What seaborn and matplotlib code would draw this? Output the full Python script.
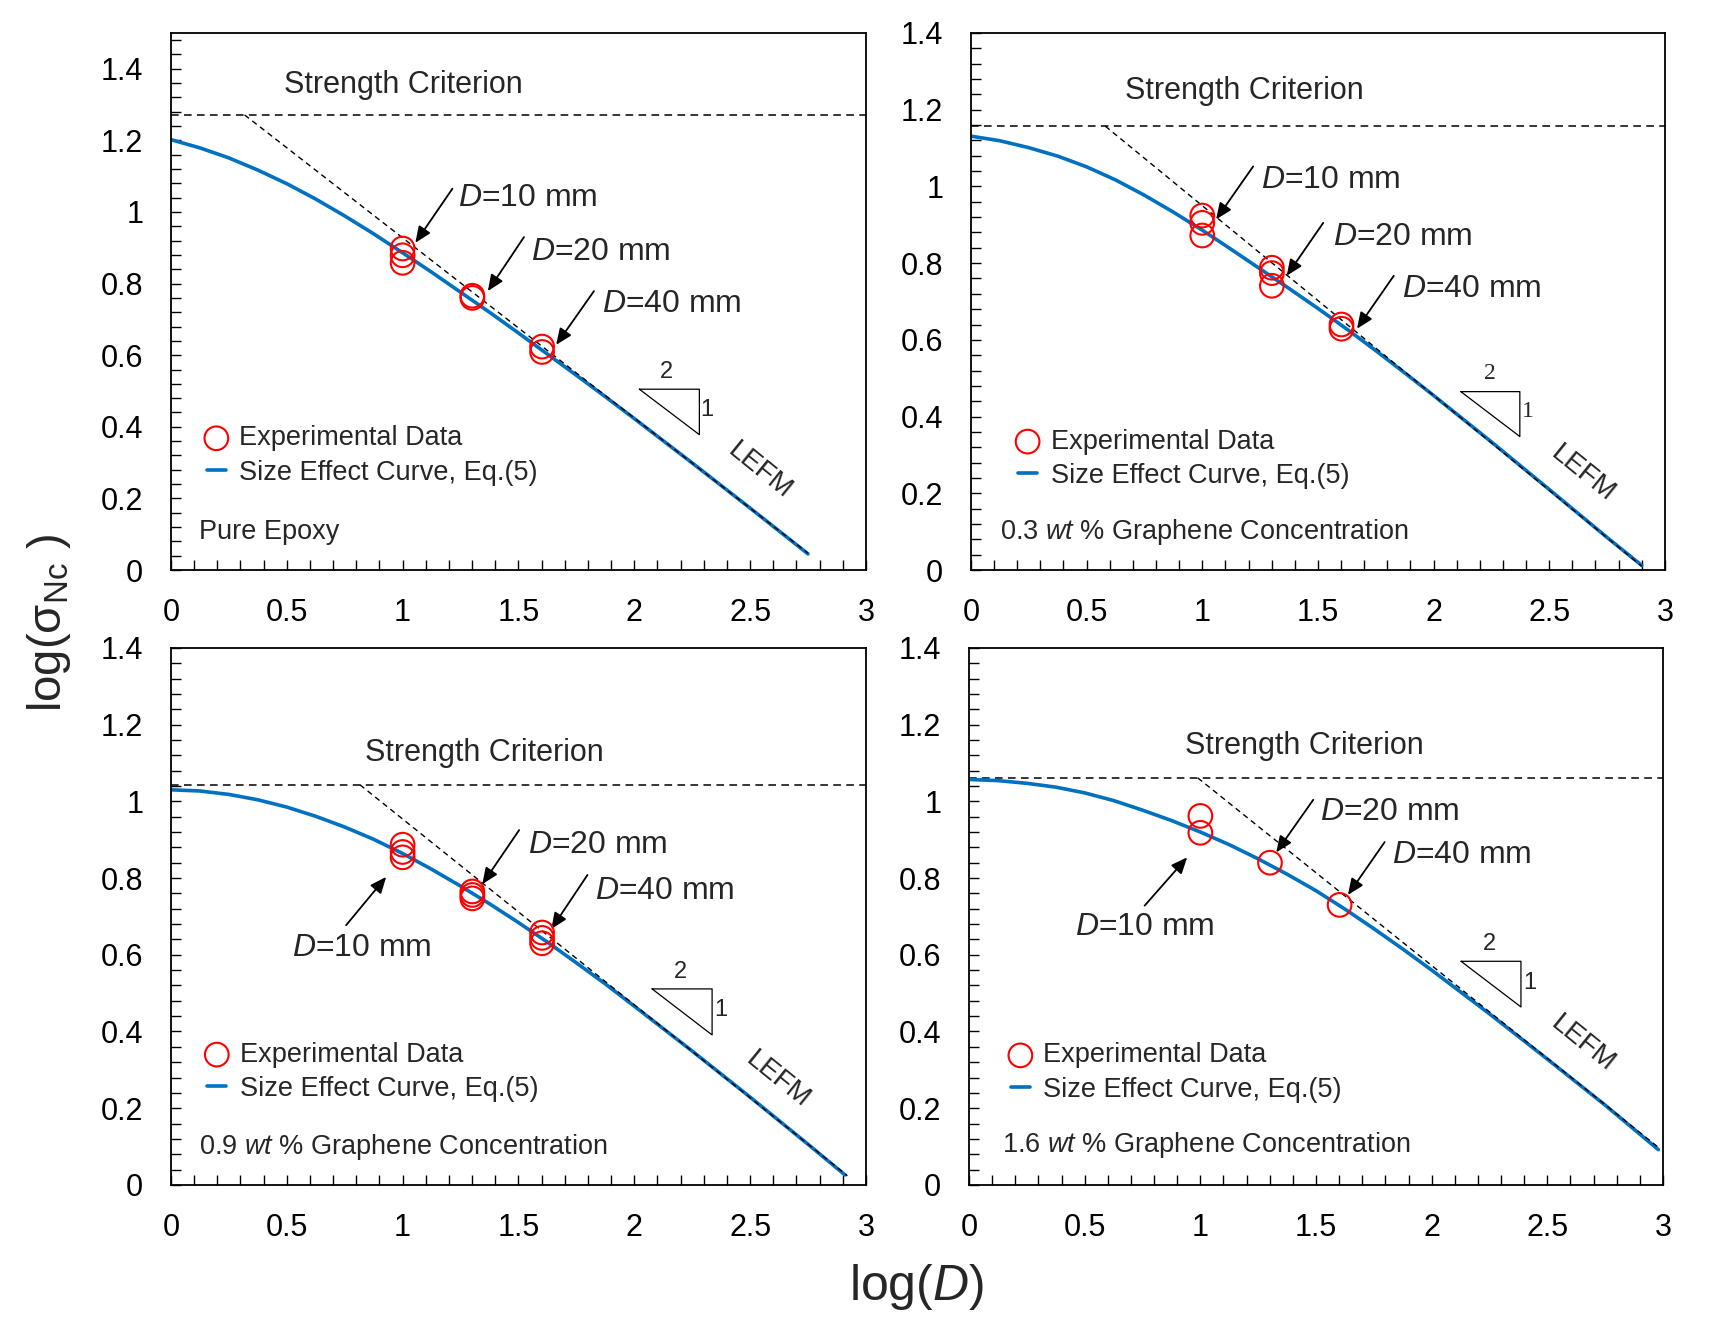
import seaborn as sns
import pandas as pd
import matplotlib.pyplot as plt
from matplotlib.ticker import MultipleLocator, FuncFormatter

# values (log10 units)
size_labels = ["$\\it{D}$=10 mm", "$\\it{D}$=20 mm", "$\\it{D}$=40 mm"]
panel_titles = ["Pure Epoxy",
                "0.3 $\\it{wt}$ % Graphene Concentration",
                "0.9 $\\it{wt}$ % Graphene Concentration",
                "1.6 $\\it{wt}$ % Graphene Concentration"]

curve_x_00 = [0, 0.125, 0.25, 0.375, 0.5, 0.625, 0.75, 0.875, 1.0, 1.125, 1.25, 1.375, 1.5,
              1.625, 1.75, 1.875, 2.0, 2.25, 2.5, 2.75]
curve_y_00 = [1.202, 1.179, 1.151, 1.117, 1.079, 1.036, 0.989, 0.939, 0.886, 0.832, 0.776, 0.720,
              0.662, 0.603, 0.544, 0.484, 0.423, 0.299, 0.173, 0.045]
curve_x_03 = [0, 0.125, 0.25, 0.375, 0.5, 0.625, 0.75, 0.875, 1.0, 1.125, 1.25, 1.375, 1.5,
              1.625, 1.75, 1.875, 2.0, 2.25, 2.5, 2.75, 2.90]
curve_y_03 = [1.131, 1.119, 1.101, 1.079, 1.051, 1.017, 0.977, 0.933, 0.886, 0.836, 0.785, 0.734,
              0.682, 0.628, 0.572, 0.514, 0.455, 0.334, 0.210, 0.085, 0.012]
curve_x_09 = [0, 0.125, 0.25, 0.375, 0.5, 0.625, 0.75, 0.875, 1.0, 1.125, 1.25, 1.375, 1.5,
              1.625, 1.75, 1.875, 2.0, 2.25, 2.5, 2.75, 2.91]
curve_y_09 = [1.030, 1.027, 1.018, 1.004, 0.985, 0.961, 0.933, 0.901, 0.864, 0.823, 0.779, 0.733,
              0.684, 0.633, 0.579, 0.524, 0.466, 0.349, 0.229, 0.106, 0.026]
curve_x_16 = [0, 0.125, 0.25, 0.375, 0.5, 0.625, 0.75, 0.875, 1.0, 1.125, 1.25, 1.375, 1.5,
              1.625, 1.75, 1.875, 2.0, 2.25, 2.5, 2.75, 2.98]
curve_y_16 = [1.057, 1.054, 1.047, 1.037, 1.022, 1.002, 0.977, 0.950, 0.920, 0.887, 0.850, 0.810,
              0.767, 0.719, 0.668, 0.615, 0.560, 0.446, 0.328, 0.208, 0.092]

exp_x_00 = [1, 1, 1, 1.301, 1.301, 1.602, 1.602]
exp_y_00 = [0.898, 0.879, 0.858, 0.766, 0.760, 0.624, 0.609]
exp_x_03 = [1, 1, 1, 1.301, 1.301, 1.301, 1.602, 1.602]
exp_y_03 = [0.924, 0.905, 0.872, 0.788, 0.774, 0.741, 0.640, 0.629]
exp_x_09 = [1, 1, 1, 1.301, 1.301, 1.301, 1.602, 1.602, 1.602]
exp_y_09 = [0.887, 0.868, 0.854, 0.765, 0.756, 0.747, 0.658, 0.644, 0.630]
exp_x_16 = [1, 1, 1.301, 1.602]
exp_y_16 = [0.962, 0.918, 0.840, 0.730]

strength = [1.271, 1.157, 1.043, 1.061]
lefm_x_00 = [0.318, 2.75]
lefm_y_00 = [1.271, 0.047]
lefm_x_03 = [0.581, 2.90]
lefm_y_03 = [1.157, 0.010]
lefm_x_09 = [0.816, 2.92]
lefm_y_09 = [1.043, 0.024]
lefm_x_16 = [0.989, 2.98]
lefm_y_16 = [1.061, 0.098]

BLUE = "#0070C0"

sns.set_theme(style="white")
plt.rcParams["font.family"] = ["Liberation Sans", "DejaVu Sans"]
plt.rcParams["mathtext.fontset"] = "custom"
plt.rcParams["mathtext.rm"] = "Liberation Sans"
plt.rcParams["mathtext.it"] = "Liberation Sans:italic"
plt.rcParams["mathtext.bf"] = "Liberation Sans:bold"

# layout of each panel: axes rect, y range and where the annotations sit
panels = [
    dict(rect=[0.0998, 0.5711, 0.4057, 0.4041], ymax=1.5,
         curve=(curve_x_00, curve_y_00), exp=(exp_x_00, exp_y_00), lefm=(lefm_x_00, lefm_y_00),
         sc=(1.005, 1.356), leg=(0.195, 0.320), title=(0.121, 0.107),
         labels=[(1.24, 1.04), (1.553, 0.889), (1.862, 0.744)],
         arrows=[((1.215, 1.065), (1.055, 0.914)), ((1.524, 0.930), (1.368, 0.779)),
                 ((1.826, 0.779), (1.663, 0.629))],
         tri=(2.022, 2.281, 0.505, 0.378), two=(2.141, 0.553), one=(2.314, 0.448),
         lefm_txt=(2.54, 0.278), serif=False),
    dict(rect=[0.5668, 0.5711, 0.4051, 0.4041], ymax=1.4,
         curve=(curve_x_03, curve_y_03), exp=(exp_x_03, exp_y_03), lefm=(lefm_x_03, lefm_y_03),
         sc=(1.18, 1.249), leg=(0.244, 0.290), title=(0.127, 0.100),
         labels=[(1.253, 1.017), (1.565, 0.867), (1.862, 0.732)],
         arrows=[((1.22, 1.052), (1.06, 0.914)), ((1.523, 0.905), (1.365, 0.767)),
                 ((1.828, 0.767), (1.669, 0.629))],
         tri=(2.118, 2.373, 0.465, 0.348), two=(2.242, 0.512), one=(2.407, 0.414),
         lefm_txt=(2.647, 0.25), serif=True),
    dict(rect=[0.0998, 0.1084, 0.4057, 0.4041], ymax=1.4,
         curve=(curve_x_09, curve_y_09), exp=(exp_x_09, exp_y_09), lefm=(lefm_x_09, lefm_y_09),
         sc=(1.353, 1.126), leg=(0.197, 0.295), title=(0.122, 0.100),
         labels=[(0.523, 0.618), (1.543, 0.887), (1.832, 0.765)],
         arrows=[((0.756, 0.677), (0.929, 0.803)), ((1.503, 0.925), (1.344, 0.784)),
                 ((1.798, 0.808), (1.642, 0.667))],
         tri=(2.077, 2.336, 0.511, 0.391), two=(2.2, 0.555), one=(2.373, 0.457),
         lefm_txt=(2.618, 0.274), serif=False),
    dict(rect=[0.5657, 0.1084, 0.4051, 0.4041], ymax=1.4,
         curve=(curve_x_16, curve_y_16), exp=(exp_x_16, exp_y_16), lefm=(lefm_x_16, lefm_y_16),
         sc=(1.448, 1.144), leg=(0.221, 0.293), title=(0.141, 0.103),
         labels=[(0.456, 0.672), (1.518, 0.971), (1.827, 0.859)],
         arrows=[((0.759, 0.728), (0.943, 0.854)), ((1.488, 1.004), (1.328, 0.867)),
                 ((1.797, 0.894), (1.638, 0.756))],
         tri=(2.127, 2.386, 0.583, 0.464), two=(2.25, 0.627), one=(2.426, 0.527),
         lefm_txt=(2.655, 0.368), serif=False),
]


def draw_panel(ax, p, s_val, title):
    cx, cy = p["curve"]
    ex, ey = p["exp"]
    lx, ly = p["lefm"]
    curve = pd.DataFrame({"logD": cx, "logS": cy})
    exp = pd.DataFrame({"logD": ex, "logS": ey})

    sns.lineplot(x=[0, 3], y=[s_val, s_val], ax=ax, color="black", lw=1.1,
                 linestyle=(0, (5, 3.5)), estimator=None, sort=False)
    sns.lineplot(data=curve, x="logD", y="logS", ax=ax, color=BLUE, lw=2.6,
                 estimator=None, sort=False, label="Size Effect Curve, Eq.(5)")
    sns.lineplot(x=lx, y=ly, ax=ax, color="black", lw=1.0, linestyle=(0, (4, 3)),
                 estimator=None, sort=False, zorder=3)
    sns.scatterplot(data=exp, x="logD", y="logS", ax=ax, marker="o", s=290,
                    facecolors="none", edgecolor="red", linewidth=1.5,
                    label="Experimental Data", zorder=4)

    ax.set_xlim(0, 3)
    ax.set_ylim(0, p["ymax"])
    ax.xaxis.set_major_locator(MultipleLocator(0.5))
    ax.xaxis.set_minor_locator(MultipleLocator(0.1))
    ax.yaxis.set_major_locator(MultipleLocator(0.2))
    ax.yaxis.set_minor_locator(MultipleLocator(0.04))
    fmt = FuncFormatter(lambda v, _: f"{v:g}")
    ax.xaxis.set_major_formatter(fmt)
    ax.yaxis.set_major_formatter(fmt)
    ax.tick_params(which="both", direction="in", length=7, width=1, color="black",
                   left=True, bottom=True, top=False, right=False)
    ax.tick_params(which="major", labelsize=22, pad=20, labelcolor="black")
    ax.set_xlabel("")
    ax.set_ylabel("")
    ax.grid(False)
    for sp in ax.spines.values():
        sp.set_color("black")
        sp.set_linewidth(1.3)

    ax.text(*p["sc"], "Strength Criterion", fontsize=22, ha="center", va="center")
    ax.text(*p["title"], title, fontsize=19.5, ha="left", va="center")
    for (tx, ty), lab, (tail, head) in zip(p["labels"], size_labels, p["arrows"]):
        ax.text(tx, ty, lab, fontsize=23, ha="left", va="center")
        ax.annotate("", xy=head, xytext=tail,
                    arrowprops=dict(arrowstyle="-|>,head_length=0.7,head_width=0.3",
                                    color="black", lw=1.3, mutation_scale=14,
                                    shrinkA=0, shrinkB=0))

    x1, x2, y1, y2 = p["tri"]
    ax.plot([x1, x2, x2, x1], [y1, y1, y2, y1], color="black", lw=0.9)
    fam = ["Liberation Serif"] if p["serif"] else ["Liberation Sans"]
    ax.text(*p["two"], "2", fontsize=17, ha="center", va="center", family=fam)
    ax.text(*p["one"], "1", fontsize=17, ha="center", va="center", family=fam)
    ax.text(*p["lefm_txt"], "LEFM", fontsize=20, rotation=-39, ha="center",
            va="center", rotation_mode="anchor")

    handles, labels = ax.get_legend_handles_labels()
    order = [labels.index("Experimental Data"), labels.index("Size Effect Curve, Eq.(5)")]
    lgx, lgy = p["leg"]
    ax.legend([handles[i] for i in order], [labels[i] for i in order],
              loc="center left", bbox_to_anchor=(lgx - 0.04, lgy),
              bbox_transform=ax.transData, frameon=False, fontsize=19.5,
              handlelength=0.7, handletextpad=0.5, labelspacing=0.3,
              borderpad=0, borderaxespad=0)


fig = plt.figure(figsize=(17.13, 13.29), dpi=100)
for p, s_val, title in zip(panels, strength, panel_titles):
    ax = fig.add_axes(p["rect"])
    draw_panel(ax, p, s_val, title)

fig.text(0.0286, 0.531, "log(σ$_{\\mathrm{Nc}}$ )", fontsize=34, rotation=90,
         ha="center", va="center")
fig.text(0.535, 0.0316, "log($\\it{D}$)", fontsize=36, ha="center", va="center")

fig.savefig("out.png", dpi=100, facecolor="white")
